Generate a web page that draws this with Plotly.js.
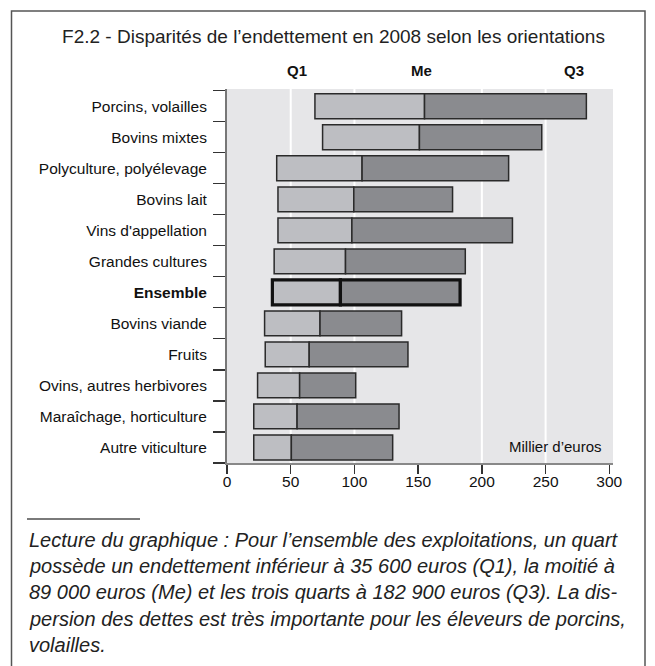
<!DOCTYPE html>
<html>
<head>
<meta charset="utf-8">
<script src="https://cdn.plot.ly/plotly-3.0.1.min.js"></script>
<style>html,body{margin:0;padding:0;background:#fff;}#chart{width:655px;height:666px;}</style>
</head>
<body>
<div id="chart"></div>
<script>
const categories = ['Porcins, volailles','Bovins mixtes','Polyculture, polyélevage','Bovins lait',"Vins d'appellation",'Grandes cultures','Ensemble','Bovins viande','Fruits','Ovins, autres herbivores','Maraîchage, horticulture','Autre viticulture'];
const q1 = [69, 75, 39, 40, 40, 37, 35.6, 29.5, 30, 24, 21, 21];
const me = [155, 151, 106, 99.5, 98, 93, 89, 73, 64.5, 57, 55, 50.5];
const q3 = [282, 247, 221, 177, 224, 187, 182.9, 137, 142, 101, 135, 130];
const highlight = 'Ensemble';
const xTicks = [0, 50, 100, 150, 200, 250, 300];
const gridVals = [50, 100, 200, 250];
const titleText = 'F2.2 - Disparités de l’endettement en 2008 selon les orientations';
const headerLabels = ['Q1', 'Me', 'Q3'];
const unitLabel = 'Millier d’euros';
const captionLines = [
  'Lecture du graphique : Pour l’ensemble des exploitations, un quart',
  'possède un endettement inférieur à 35 600 euros (Q1), la moitié à',
  '89 000 euros (Me) et les trois quarts à 182 900 euros (Q3). La dis-',
  'persion des dettes est très importante pour les éleveurs de porcins,',
  'volailles.'
];

const W = 655, H = 666;
const L = 227, R = 613, T = 89, B = 463;
const px = x => (x - L) / (R - L);
const py = y => (B - y) / (B - T);
const SANS = '"Liberation Sans", Arial, sans-serif';

const lineW = categories.map(c => c === highlight ? 3.2 : 1.5);
const lineC = categories.map(c => c === highlight ? '#111' : '#2a2a2a');
const tickText = categories.map(c => c === highlight ? '<b>' + c + '</b>' : c);

const traces = [
  {type: 'bar', orientation: 'h', y: categories, base: q1, x: q1.map((v, i) => me[i] - v),
   width: 0.8, marker: {color: '#bdbec2', line: {color: lineC, width: lineW}}, hoverinfo: 'skip'},
  {type: 'bar', orientation: 'h', y: categories, base: me, x: me.map((v, i) => q3[i] - v),
   width: 0.8, marker: {color: '#8a8b8f', line: {color: lineC, width: lineW}}, hoverinfo: 'skip'}
];

const shapes = gridVals.map(v => ({type: 'line', xref: 'x', yref: 'paper', x0: v, x1: v, y0: 0, y1: 1,
  line: {color: '#ffffff', width: 2}, layer: 'below'}));
shapes.push({type: 'rect', xref: 'paper', yref: 'paper', x0: px(11.5), x1: px(645), y0: py(11), y1: py(675),
  line: {color: '#555', width: 1.5}, fillcolor: 'rgba(0,0,0,0)'});
shapes.push({type: 'line', xref: 'paper', yref: 'paper', x0: px(27), x1: px(140), y0: py(519), y1: py(519),
  line: {color: '#7a7a7a', width: 2}});

const headerX = [297, 421.5, 574];
const annotations = headerLabels.map((t, i) => ({text: '<b>' + t + '</b>', xref: 'paper', yref: 'paper',
  x: px(headerX[i]), y: py(70), xanchor: 'center', yanchor: 'middle', showarrow: false,
  font: {family: SANS, size: 15, color: '#111'}}));
annotations.push({text: unitLabel, xref: 'paper', yref: 'paper', x: px(604), y: py(446),
  xanchor: 'right', yanchor: 'middle', showarrow: false, font: {family: SANS, size: 15, color: '#111'}});
captionLines.forEach((t, i) => annotations.push({text: '<i>' + t + '</i>', xref: 'paper', yref: 'paper',
  x: px(27), y: py(540 + i * 26.2), xanchor: 'left', yanchor: 'middle', showarrow: false, align: 'left',
  font: {family: SANS, size: 20, color: '#222'}}));

const layout = {
  width: W, height: H,
  margin: {l: L, r: W - R, t: T, b: H - B, pad: 0},
  paper_bgcolor: '#ffffff', plot_bgcolor: '#e6e6e8',
  barmode: 'overlay', showlegend: false,
  title: {text: titleText, x: 333.5 / W, xanchor: 'center', xref: 'container', y: 1 - 36.5 / H, yanchor: 'middle', yref: 'container',
    font: {family: SANS, size: 19, color: '#222'}},
  xaxis: {range: [0, 302.9], tickvals: xTicks, ticktext: xTicks.map(String), showgrid: false, zeroline: false,
    showline: true, linecolor: '#888', linewidth: 2, ticks: 'outside', ticklen: 9, tickwidth: 1.5, tickcolor: '#333',
    ticklabelstandoff: -6,
    tickfont: {family: SANS, size: 15.5, color: '#111'}, fixedrange: true},
  yaxis: {type: 'category', categoryorder: 'array', categoryarray: categories, tickvals: categories, ticktext: tickText,
    range: [11.5, -0.555], tickson: 'boundaries', ticks: 'outside', ticklen: 12, tickwidth: 1.2, tickcolor: '#333',
    showline: true, linecolor: '#777', linewidth: 2, showgrid: false, zeroline: false, ticklabelstandoff: 15,
    tickfont: {family: SANS, size: 15.5, color: '#111'}, fixedrange: true},
  shapes: shapes, annotations: annotations
};
Plotly.newPlot('chart', traces, layout, {displayModeBar: false, staticPlot: true});
</script>
</body>
</html>
